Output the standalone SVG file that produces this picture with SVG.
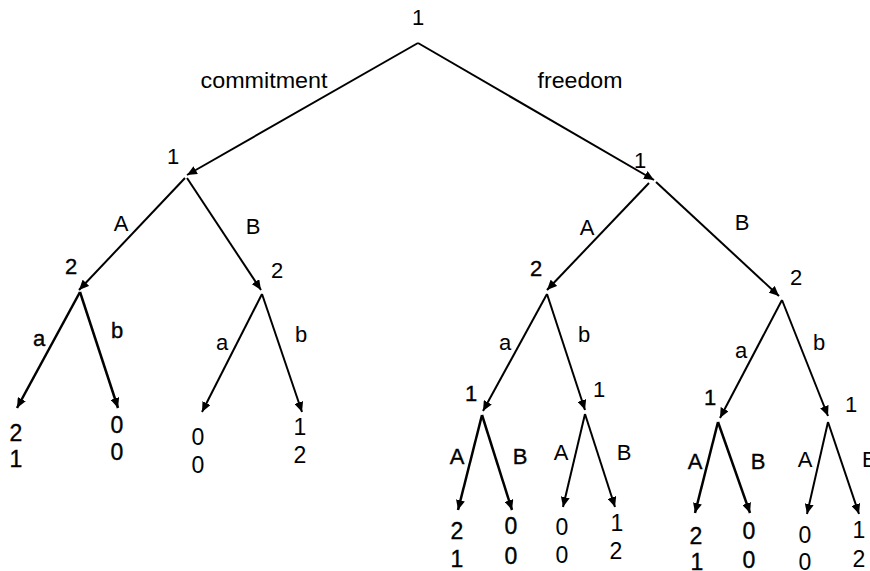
<svg xmlns="http://www.w3.org/2000/svg" width="870" height="571" viewBox="0 0 870 571">
<style>
text{font-family:"Liberation Sans",Arial,sans-serif;fill:#000;text-anchor:middle}
.lb{font-size:22px}
.lf{font-size:23px}
.hv{stroke:#000;stroke-width:0.35px}
.e{stroke:#000;stroke-width:2;fill:none;marker-end:url(#ah)}
.eh{stroke:#000;stroke-width:2.5;fill:none;marker-end:url(#ah)}
</style>
<defs>
<marker id="ah" markerUnits="userSpaceOnUse" markerWidth="11" markerHeight="9" refX="10" refY="4.5" orient="auto">
<path d="M0,0 L10,4.5 L0,9 Z" fill="#000"/>
</marker>
</defs>
<rect width="870" height="571" fill="#fff"/>
<g id="connectors">
<line class="e" x1="418" y1="43" x2="187" y2="175"/>
<line class="e" x1="418" y1="43" x2="654" y2="180"/>
<line class="e" x1="185" y1="178" x2="79" y2="290"/>
<line class="e" x1="187" y1="178" x2="261" y2="290"/>
<line class="e" x1="649" y1="183" x2="547" y2="290"/>
<line class="e" x1="656" y1="182" x2="779" y2="296"/>
<line class="eh" x1="80" y1="292" x2="17" y2="408"/>
<line class="eh" x1="80" y1="292" x2="118" y2="408"/>
<line class="e" x1="262" y1="294" x2="202" y2="412"/>
<line class="e" x1="262" y1="294" x2="302" y2="412"/>
<line class="e" x1="547" y1="294" x2="483" y2="411"/>
<line class="e" x1="547" y1="294" x2="585" y2="410"/>
<line class="e" x1="782" y1="300" x2="720" y2="418"/>
<line class="e" x1="782" y1="300" x2="828" y2="416"/>
<line class="eh" x1="482" y1="415" x2="458" y2="510"/>
<line class="eh" x1="482" y1="415" x2="512" y2="510"/>
<line class="e" x1="585" y1="414" x2="563" y2="507"/>
<line class="e" x1="585" y1="414" x2="615" y2="507"/>
<line class="eh" x1="718" y1="422" x2="695" y2="513"/>
<line class="eh" x1="718" y1="422" x2="750" y2="513"/>
<line class="e" x1="828" y1="422" x2="807" y2="514"/>
<line class="e" x1="828" y1="422" x2="859" y2="514"/>
<text class="lb" x="264" y="88" textLength="127" lengthAdjust="spacingAndGlyphs">commitment</text>
<text class="lb" x="580" y="88" textLength="85" lengthAdjust="spacingAndGlyphs">freedom</text>
<text class="lb" x="121" y="231">A</text>
<text class="lb" x="253" y="234">B</text>
<text class="lb" x="587" y="235">A</text>
<text class="lb" x="742" y="230">B</text>
<text class="lb hv" x="39" y="346">a</text>
<text class="lb hv" x="117" y="338">b</text>
<text class="lb" x="222" y="350">a</text>
<text class="lb" x="301" y="342">b</text>
<text class="lb" x="505" y="350">a</text>
<text class="lb" x="584" y="342">b</text>
<text class="lb" x="741" y="358">a</text>
<text class="lb" x="819" y="350">b</text>
<text class="lb hv" x="457" y="464">A</text>
<text class="lb hv" x="520" y="464">B</text>
<text class="lb" x="561" y="460">A</text>
<text class="lb" x="624" y="460">B</text>
<text class="lb hv" x="695" y="469">A</text>
<text class="lb hv" x="758" y="469">B</text>
<text class="lb" x="805" y="467">A</text>
<text class="lb" x="862" y="467" style="text-anchor:start">B</text>
</g>
<g id="n-root"><text class="lb" x="418" y="25">1</text></g>
<g id="n-L1"><text class="lb" x="173" y="164">1</text></g>
<g id="n-R1"><text class="lb" x="640" y="168">1</text></g>
<g id="n-L2a"><text class="lb hv" x="71" y="274">2</text></g>
<g id="n-L2b"><text class="lb" x="277" y="278">2</text></g>
<g id="n-R2a"><text class="lb hv" x="536" y="276">2</text></g>
<g id="n-R2b"><text class="lb" x="796" y="285">2</text></g>
<g id="n-R3aa"><text class="lb hv" x="471" y="401">1</text></g>
<g id="n-R3ab"><text class="lb" x="599" y="397">1</text></g>
<g id="n-R3ba"><text class="lb hv" x="710" y="405">1</text></g>
<g id="n-R3bb"><text class="lb" x="851" y="412">1</text></g>
<g id="leaf-1"><text class="lf hv" x="16" y="441">2</text><text class="lf hv" x="16" y="467">1</text></g>
<g id="leaf-2"><text class="lf hv" x="117" y="433">0</text><text class="lf hv" x="117" y="460">0</text></g>
<g id="leaf-3"><text class="lf" x="198" y="445">0</text><text class="lf" x="198" y="473">0</text></g>
<g id="leaf-4"><text class="lf" x="300" y="435">1</text><text class="lf" x="300" y="463">2</text></g>
<g id="leaf-5"><text class="lf hv" x="457" y="539">2</text><text class="lf hv" x="457" y="567">1</text></g>
<g id="leaf-6"><text class="lf hv" x="511" y="534">0</text><text class="lf hv" x="511" y="564">0</text></g>
<g id="leaf-7"><text class="lf" x="562" y="535">0</text><text class="lf" x="562" y="563">0</text></g>
<g id="leaf-8"><text class="lf" x="617" y="531">1</text><text class="lf" x="616" y="559">2</text></g>
<g id="leaf-9"><text class="lf hv" x="696" y="544">2</text><text class="lf hv" x="697" y="570">1</text></g>
<g id="leaf-10"><text class="lf hv" x="749" y="539">0</text><text class="lf hv" x="749" y="568">0</text></g>
<g id="leaf-11"><text class="lf" x="805" y="543">0</text><text class="lf" x="805" y="570">0</text></g>
<g id="leaf-12"><text class="lf" x="859" y="538">1</text><text class="lf" x="859" y="567">2</text></g>
</svg>
